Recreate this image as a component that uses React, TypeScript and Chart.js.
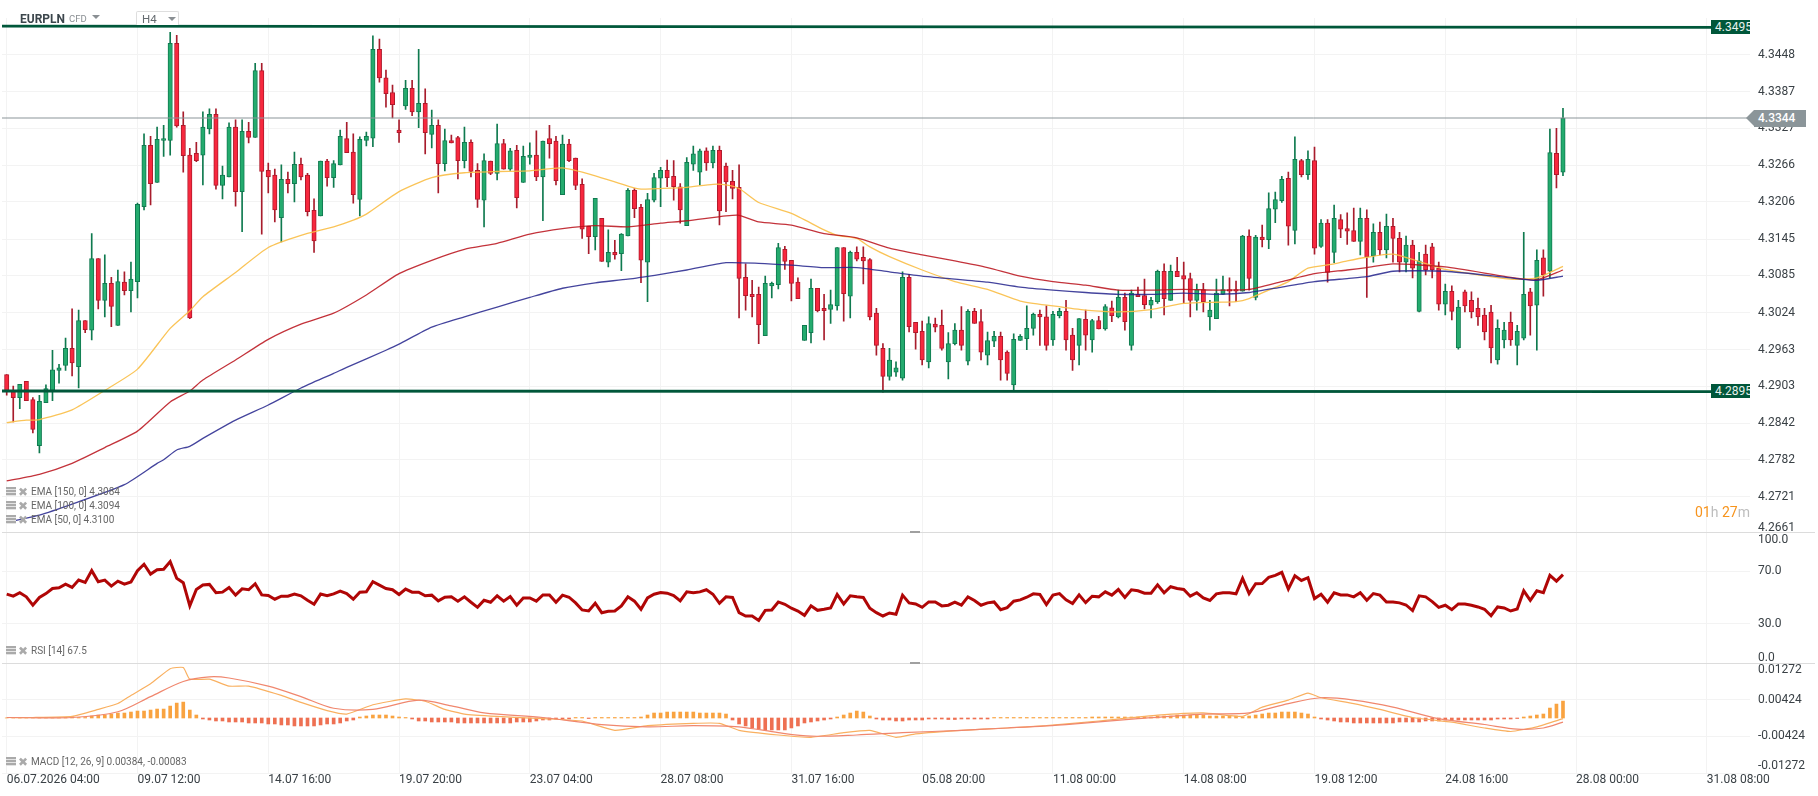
import { useEffect, useRef } from 'react';
import Chart from 'chart.js/auto';

// candles, H4, one per index on the x axis
const openPrices = [
  4.2922,4.2894,4.2884,4.2911,4.2881,4.2805,4.2876,4.2896,4.2929,4.2937,
  4.2965,4.2935,4.3011,4.2995,4.3113,4.3044,4.3072,4.3003,4.3074,4.3060,
  4.3075,4.3198,4.3299,4.3238,4.3307,4.3307,4.3467,4.3332,4.3283,4.3286,
  4.3283,4.3326,4.3350,4.3233,4.3247,4.3329,4.3223,4.3322,4.3312,4.3422,
  4.3258,4.3250,4.3180,4.3243,4.3236,4.3268,4.3250,4.3192,4.3183,4.3273,
  4.3246,4.3267,4.3310,4.3288,4.3210,4.3307,4.3311,4.3457,4.3410,4.3386,
  4.3324,4.3364,4.3393,4.3354,4.3368,4.3317,4.3332,4.3269,4.3307,4.3312,
  4.3274,4.3304,4.3258,4.3209,4.3273,4.3253,4.3302,4.3260,4.3291,4.3238,
  4.3279,4.3283,4.3247,4.3310,4.3306,4.3218,4.3301,4.3278,4.3235,4.3166,
  4.3149,4.3179,4.3107,4.3123,4.3121,4.3150,4.3225,4.3197,4.3107,4.3209,
  4.3245,4.3258,4.3248,4.3231,4.3167,4.3268,4.3255,4.3290,4.3270,4.3291,
  4.3265,4.3240,4.3230,4.3082,4.3054,4.3054,4.2986,4.3068,4.3070,4.3128,
  4.3110,4.3074,4.2978,4.2991,4.3064,4.3031,4.3029,4.3035,4.3131,4.3051,
  4.3123,4.3115,4.3111,4.3023,4.2965,4.2919,4.2926,4.2916,4.3082,4.3008,
  4.2993,4.2943,4.3005,4.3003,4.2943,4.2973,4.2995,4.2944,4.3026,4.3009,
  4.2954,4.2977,4.2985,4.2959,4.2905,4.2978,4.2981,4.2998,4.3021,4.3017,
  4.2979,4.3019,4.3026,4.2987,4.2970,4.3013,4.2979,4.3011,4.2997,4.3032,
  4.3017,4.3049,4.2970,4.3054,4.3052,4.3036,4.3042,4.3092,4.3044,4.3092,
  4.3085,4.3080,4.3044,4.3062,4.3017,4.3014,4.3054,4.3062,4.3062,4.3059,
  4.3150,4.3049,4.3148,4.3144,4.3194,4.3208,4.3245,4.3159,4.3274,4.3251,
  4.3274,4.3133,4.3171,4.3123,4.3177,4.3162,4.3159,4.3141,4.3179,4.3117,
  4.3156,4.3127,4.3166,4.3146,4.3107,4.3135,4.3026,4.3120,4.3132,4.3097,
  4.3038,4.3059,4.2966,4.3058,4.3044,4.3031,4.3020,4.3025,4.2946,4.2979,
  4.3008,4.2970,4.2982,4.3058,4.3036,4.3114,4.3092,4.3286,4.3255,
];
const closePrices = [
  4.2894,4.2884,4.2906,4.2879,4.2832,4.2878,4.2899,4.2930,4.2933,4.2965,
  4.2941,4.3011,4.2996,4.3113,4.3044,4.3072,4.3034,4.3075,4.3060,4.3079,
  4.3202,4.3299,4.3236,4.3309,4.3310,4.3467,4.3331,4.3282,4.3015,4.3274,
  4.3329,4.3350,4.3233,4.3250,4.3329,4.3223,4.3322,4.3312,4.3422,4.3256,
  4.3247,4.3193,4.3243,4.3236,4.3268,4.3247,4.3190,4.3142,4.3273,4.3246,
  4.3269,4.3314,4.3287,4.3218,4.3309,4.3314,4.3457,4.3410,4.3384,4.3366,
  4.3320,4.3393,4.3354,4.3368,4.3320,4.3332,4.3269,4.3307,4.3303,4.3274,
  4.3304,4.3256,4.3210,4.3274,4.3253,4.3302,4.3260,4.3290,4.3213,4.3281,
  4.3283,4.3247,4.3306,4.3302,4.3241,4.3301,4.3274,4.3233,4.3161,4.3149,
  4.3212,4.3108,4.3123,4.3119,4.3153,4.3225,4.3195,4.3110,4.3210,4.3246,
  4.3258,4.3246,4.3231,4.3193,4.3271,4.3285,4.3290,4.3270,4.3291,4.3191,
  4.3239,4.3228,4.3080,4.3052,4.3050,4.3004,4.3072,4.3072,4.3131,4.3108,
  4.3072,4.3047,4.3003,4.3064,4.3027,4.3027,4.3037,4.3131,4.3055,4.3123,
  4.3112,4.3109,4.3017,4.2970,4.2919,4.2946,4.2933,4.3082,4.3001,4.2991,
  4.2946,4.3006,4.3000,4.2965,4.2973,4.2995,4.2970,4.3026,4.3006,4.2959,
  4.2978,4.2985,4.2946,4.2924,4.2980,4.2985,4.2998,4.3021,4.3017,4.2970,
  4.3021,4.3026,4.2979,4.2946,4.3014,4.2987,4.3011,4.2997,4.3034,4.3019,
  4.3049,4.3009,4.3056,4.3050,4.3037,4.3044,4.3092,4.3047,4.3092,4.3083,
  4.3079,4.3044,4.3062,4.3042,4.3028,4.3056,4.3062,4.3059,4.3059,4.3150,
  4.3080,4.3148,4.3144,4.3195,4.3210,4.3243,4.3166,4.3276,4.3251,4.3276,
  4.3130,4.3171,4.3090,4.3179,4.3161,4.3158,4.3141,4.3179,4.3116,4.3156,
  4.3127,4.3166,4.3146,4.3107,4.3135,4.3097,4.3109,4.3094,4.3094,4.3038,
  4.3059,4.3026,4.3033,4.3035,4.3025,4.3017,4.2992,4.2966,4.2998,4.2995,
  4.2979,4.2993,4.3054,4.3035,4.3110,4.3086,4.3287,4.3251,4.3344,
];
const highPrices = [
  4.2922,4.2903,4.2906,4.2911,4.2884,4.2888,4.2905,4.2962,4.2939,4.2982,
  4.3030,4.3028,4.3011,4.3154,4.3113,4.3119,4.3082,4.3094,4.3091,4.3107,
  4.3204,4.3318,4.3314,4.3329,4.3332,4.3485,4.3480,4.3354,4.3294,4.3304,
  4.3354,4.3359,4.3359,4.3265,4.3336,4.3341,4.3341,4.3337,4.3434,4.3434,
  4.3270,4.3260,4.3267,4.3255,4.3288,4.3278,4.3253,4.3211,4.3273,4.3276,
  4.3274,4.3324,4.3337,4.3318,4.3313,4.3321,4.3479,4.3474,4.3423,4.3398,
  4.3341,4.3406,4.3406,4.3457,4.3392,4.3357,4.3341,4.3326,4.3316,4.3314,
  4.3329,4.3308,4.3269,4.3285,4.3273,4.3334,4.3309,4.3294,4.3299,4.3298,
  4.3303,4.3323,4.3306,4.3332,4.3314,4.3316,4.3309,4.3278,4.3244,4.3166,
  4.3212,4.3179,4.3160,4.3143,4.3154,4.3228,4.3228,4.3202,4.3220,4.3253,
  4.3263,4.3275,4.3274,4.3236,4.3279,4.3298,4.3293,4.3295,4.3298,4.3298,
  4.3270,4.3258,4.3267,4.3104,4.3077,4.3066,4.3084,4.3074,4.3138,4.3133,
  4.3110,4.3081,4.3003,4.3079,4.3064,4.3054,4.3061,4.3131,4.3131,4.3125,
  4.3132,4.3132,4.3113,4.3031,4.2973,4.2965,4.2943,4.3091,4.3087,4.3008,
  4.3010,4.3017,4.3015,4.3028,4.2991,4.3006,4.3034,4.3029,4.3031,4.3029,
  4.2992,4.2993,4.2992,4.2961,4.2989,4.2988,4.3035,4.3023,4.3028,4.3035,
  4.3026,4.3031,4.3044,4.2998,4.3014,4.3028,4.3013,4.3018,4.3037,4.3043,
  4.3061,4.3056,4.3061,4.3066,4.3079,4.3049,4.3094,4.3104,4.3102,4.3115,
  4.3107,4.3089,4.3071,4.3072,4.3044,4.3079,4.3084,4.3081,4.3076,4.3151,
  4.3160,4.3151,4.3168,4.3221,4.3222,4.3248,4.3255,4.3313,4.3276,4.3290,
  4.3296,4.3177,4.3177,4.3201,4.3185,4.3188,4.3196,4.3196,4.3193,4.3170,
  4.3173,4.3186,4.3179,4.3156,4.3150,4.3143,4.3123,4.3135,4.3138,4.3107,
  4.3071,4.3068,4.3044,4.3061,4.3058,4.3048,4.3031,4.3036,4.3012,4.3008,
  4.3025,4.3003,4.3156,4.3064,4.3127,4.3127,4.3326,4.3327,4.3360,
];
const lowPrices = [
  4.2888,4.2844,4.2866,4.2879,4.2826,4.2793,4.2876,4.2879,4.2908,4.2929,
  4.2920,4.2900,4.2991,4.2979,4.3030,4.3017,4.3001,4.3003,4.3053,4.3025,
  4.3048,4.3193,4.3201,4.3238,4.3281,4.3283,4.3329,4.3255,4.3014,4.3272,
  4.3234,4.3318,4.3227,4.3211,4.3247,4.3199,4.3157,4.3303,4.3312,4.3153,
  4.3221,4.3173,4.3140,4.3221,4.3206,4.3242,4.3183,4.3123,4.3183,4.3232,
  4.3230,4.3267,4.3287,4.3204,4.3183,4.3298,4.3297,4.3403,4.3362,4.3344,
  4.3304,4.3358,4.3348,4.3328,4.3285,4.3295,4.3221,4.3257,4.3303,4.3244,
  4.3262,4.3247,4.3197,4.3165,4.3251,4.3242,4.3260,4.3258,4.3196,4.3238,
  4.3268,4.3241,4.3175,4.3278,4.3234,4.3218,4.3272,4.3226,4.3146,4.3121,
  4.3127,4.3108,4.3099,4.3112,4.3093,4.3150,4.3180,4.3073,4.3042,4.3206,
  4.3198,4.3231,4.3209,4.3171,4.3167,4.3258,4.3234,4.3258,4.3262,4.3168,
  4.3190,4.3211,4.3015,4.3028,4.3017,4.2973,4.2986,4.3048,4.3063,4.3095,
  4.3043,4.3047,4.2978,4.2974,4.3025,4.2979,4.3006,4.3028,4.3010,4.3015,
  4.3109,4.3071,4.3012,4.2954,4.2893,4.2913,4.2919,4.2913,4.2992,4.2964,
  4.2938,4.2933,4.2992,4.2962,4.2915,4.2971,4.2962,4.2938,4.3006,4.2946,
  4.2938,4.2968,4.2913,4.2913,4.2895,4.2978,4.2963,4.2987,4.2970,4.2962,
  4.2970,4.3015,4.2962,4.2929,4.2938,4.2962,4.2959,4.2997,4.2995,4.3009,
  4.3015,4.2995,4.2962,4.3050,4.3030,4.3015,4.3039,4.3020,4.3044,4.3083,
  4.3039,4.3017,4.3028,4.3025,4.2995,4.3014,4.3054,4.3035,4.3042,4.3059,
  4.3061,4.3045,4.3132,4.3129,4.3172,4.3205,4.3135,4.3137,4.3247,4.3243,
  4.3120,4.3131,4.3074,4.3106,4.3147,4.3136,4.3141,4.3119,4.3049,4.3107,
  4.3119,4.3114,4.3107,4.3091,4.3091,4.3081,4.3025,4.3086,4.3081,4.3028,
  4.3020,4.3012,4.2964,4.3025,4.3015,4.3003,4.2979,4.2941,4.2939,4.2966,
  4.2970,4.2938,4.2979,4.2987,4.2962,4.3051,4.3081,4.3229,4.3249,
];

const ema50Index = [0,3,5,10,15,20,25,28,30,35,40,45,50,53,55,60,65,70,75,80,85,90,95,97,100,104,108,110,112,115,120,125,127,130,132,135,140,145,150,155,160,165,170,175,180,185,188,190,193,196,199,203,205,208,212,220,230,234,238];
const ema50Values = [4.2843,4.2847,4.2848,4.2864,4.2896,4.2931,4.2998,4.3027,4.3050,4.3090,4.3131,4.3151,4.3165,4.3176,4.3186,4.3223,4.3246,4.3254,4.3256,4.3257,4.3262,4.3249,4.3232,4.3227,4.3228,4.3230,4.3235,4.3234,4.3228,4.3205,4.3187,4.3160,4.3151,4.3146,4.3132,4.3116,4.3094,4.3075,4.3062,4.3043,4.3035,4.3028,4.3025,4.3029,4.3039,4.3041,4.3042,4.3047,4.3061,4.3075,4.3097,4.3104,4.3109,4.3115,4.3120,4.3095,4.3079,4.3081,4.3100];
const ema100Index = [0,5,10,15,20,25,28,30,35,40,45,50,55,60,65,70,75,80,85,90,95,100,104,110,112,115,120,125,130,135,140,145,150,155,160,165,170,175,180,185,190,195,200,205,208,212,220,230,234,238];
const ema100Values = [4.2747,4.2758,4.2776,4.2802,4.2829,4.2877,4.2895,4.2913,4.2946,4.2980,4.3005,4.3023,4.3053,4.3088,4.3110,4.3128,4.3138,4.3153,4.3162,4.3167,4.3165,4.3171,4.3175,4.3183,4.3184,4.3173,4.3168,4.3154,4.3147,4.3130,4.3119,4.3109,4.3098,4.3084,4.3075,4.3069,4.3061,4.3061,4.3062,4.3061,4.3062,4.3075,4.3088,4.3094,4.3098,4.3104,4.3099,4.3082,4.3078,4.3094];
const ema150Index = [0,5,10,18,23,24,26,28,30,35,40,45,50,52,58,60,65,70,75,80,85,90,95,100,104,110,115,120,125,130,135,140,145,150,155,160,165,170,175,180,185,190,195,200,205,208,212,220,230,234,238];
const ema150Values = [4.2679,4.2691,4.2709,4.2741,4.2776,4.2782,4.2798,4.2804,4.2817,4.2847,4.2872,4.2900,4.2924,4.2934,4.2962,4.2972,4.3000,4.3017,4.3033,4.3049,4.3064,4.3073,4.3079,4.3087,4.3094,4.3106,4.3105,4.3102,4.3098,4.3098,4.3091,4.3084,4.3079,4.3074,4.3066,4.3061,4.3057,4.3054,4.3054,4.3056,4.3054,4.3057,4.3066,4.3075,4.3080,4.3083,4.3092,4.3092,4.3081,4.3077,4.3084];

// RSI, one value per candle
const rsiValues = [
  52.6,51.0,53.6,50.5,44.1,50.0,53.0,56.9,57.4,60.2,
  57.7,63.3,61.5,70.5,62.0,63.3,58.7,62.5,60.2,61.8,
  70.5,75.4,67.9,71.2,71.5,77.4,64.6,61.3,43.6,56.1,
  59.5,60.0,53.6,54.1,57.7,51.8,56.6,55.9,60.5,52.0,
  51.5,48.7,51.0,51.0,52.6,51.3,47.9,44.8,52.6,51.3,
  52.8,54.8,53.0,48.7,54.1,54.3,62.0,59.5,56.9,55.9,
  52.3,56.4,54.1,54.1,51.3,51.8,47.4,50.2,50.5,47.2,
  50.5,46.4,42.5,47.9,46.4,51.3,47.2,50.7,44.1,49.7,
  49.7,47.2,52.0,52.0,46.4,51.8,50.2,45.9,40.5,39.7,
  45.6,38.4,39.5,39.7,43.6,50.5,47.2,41.0,49.7,52.5,
  53.8,53.3,51.5,47.4,54.3,53.6,54.3,55.9,52.5,45.6,
  50.5,50.0,38.4,35.9,35.9,32.5,40.2,40.5,46.6,44.8,
  41.8,39.7,36.4,43.6,40.2,41.0,42.0,52.3,45.1,51.3,
  50.5,50.0,41.8,38.4,35.9,38.2,37.2,51.8,45.9,45.1,
  42.5,46.6,46.6,43.6,44.1,46.4,44.1,50.5,47.7,44.1,
  45.9,46.6,40.7,42.3,47.2,48.2,50.2,52.8,52.3,44.6,
  51.8,53.0,48.2,45.4,52.0,46.1,51.0,50.5,54.3,51.8,
  56.1,50.0,55.9,55.1,53.3,53.3,59.7,53.6,58.2,56.9,
  56.1,51.0,53.6,49.7,47.7,52.8,53.6,53.6,52.8,64.6,
  53.0,60.5,60.7,65.4,66.9,69.2,56.4,66.6,63.0,65.1,
  49.2,52.5,46.4,53.6,52.0,52.0,50.5,53.6,47.9,53.0,
  51.8,46.6,46.6,45.9,44.3,40.0,51.3,50.5,46.9,42.5,
  44.1,40.7,45.1,45.1,44.1,42.8,41.0,36.1,42.8,42.0,
  39.7,41.2,55.1,47.9,55.1,53.6,66.9,62.5,67.5,
];

// MACD histogram per candle, the two lines at marked indices
const macdHistogram = [
  0.00002,0.00002,0.00002,0.00002,0.00002,0.00002,0.00002,0.00002,0.00002,0.00012,
  0.00012,0.00012,0.00012,0.00046,0.00069,0.00069,0.00092,0.00115,0.00115,0.00138,
  0.00161,0.00161,0.00184,0.00207,0.00207,0.00276,0.00345,0.00368,0.00184,0.00069,
  -0.00023,-0.00046,-0.00069,-0.00069,-0.00092,-0.00092,-0.00092,-0.00115,-0.00115,-0.00115,
  -0.00138,-0.00138,-0.00161,-0.00161,-0.00184,-0.00184,-0.00184,-0.00184,-0.00161,-0.00138,
  -0.00138,-0.00115,-0.00069,-0.00046,0.00023,0.00046,0.00069,0.00069,0.00069,0.00046,
  0.00023,0.00012,-0.00023,-0.00069,-0.00069,-0.00092,-0.00092,-0.00092,-0.00092,-0.00115,
  -0.00115,-0.00115,-0.00115,-0.00115,-0.00115,-0.00115,-0.00115,-0.00115,-0.00092,-0.00092,
  -0.00092,-0.00069,-0.00046,-0.00046,-0.00023,-0.00023,-0.00023,0.00012,0.00012,-0.00012,
  0.00012,0.00012,0.00012,0.00012,0.00012,0.00012,0.00012,0.00023,0.00069,0.00115,
  0.00115,0.00138,0.00138,0.00138,0.00138,0.00138,0.00115,0.00115,0.00115,0.00115,
  0.00092,-0.00046,-0.00138,-0.00184,-0.0023,-0.00253,-0.00276,-0.00276,-0.00276,-0.00276,
  -0.0023,-0.00184,-0.00115,-0.00092,-0.00069,-0.00046,-0.00023,0.00023,0.00069,0.00115,
  0.00161,0.00138,0.00046,-0.00023,-0.00046,-0.00046,-0.00069,-0.00069,-0.00046,-0.00046,
  -0.00046,-0.00023,-0.00023,-0.00023,-0.00035,-0.00035,-0.00023,-0.00023,-0.00023,-0.00023,
  -0.00023,0.00012,0.00012,0.00012,0.00012,0.00012,0.00012,0.00012,0.00012,0.00012,
  0.00012,0.00012,0.00012,0.00012,0.00012,0.00012,0.00023,0.00023,0.00023,0.00023,
  0.00023,0.00023,0.00023,0.00023,0.00023,0.00023,0.00046,0.00046,0.00046,0.00069,
  0.00069,0.00069,0.00069,0.00069,0.00046,0.00046,0.00046,0.00046,0.00046,0.00023,
  0.00046,0.00069,0.00092,0.00115,0.00115,0.00138,0.00138,0.00138,0.00115,0.00092,
  0.00023,-0.00023,-0.00046,-0.00069,-0.00092,-0.00092,-0.00115,-0.00115,-0.00115,-0.00115,
  -0.00115,-0.00115,-0.00115,-0.00092,-0.00092,-0.00092,-0.00092,-0.00069,-0.00069,-0.00069,
  -0.00046,-0.00046,-0.00046,-0.00046,-0.00046,-0.00046,-0.00046,-0.00046,-0.00023,-0.00023,
  -0.00023,-0.00012,0.00023,0.00046,0.00069,0.00092,0.0023,0.00322,0.00391,
];
const macdFastIndex = [0,4,10,14,17,19,22,25,27,28,31,34,37,42,45,49,52,56,61,64,67,70,75,82,88,93,98,105,109,112,118,123,128,132,136,139,146,153,159,167,176,183,189,192,196,199,201,206,210,215,221,226,230,234,238];
const macdFastValues = [0.00011,0.00011,0.00038,0.00199,0.00334,0.00522,0.00791,0.01141,0.01167,0.00898,0.00898,0.00737,0.00737,0.00522,0.0036,0.00172,0.00091,0.00307,0.00441,0.00387,0.00199,0.00091,0.00038,-0.00016,-0.0007,-0.00285,-0.00178,-0.00124,-0.00124,-0.00285,-0.00393,-0.00447,-0.00339,-0.00285,-0.00447,-0.00366,-0.00285,-0.00231,-0.00178,-0.0007,0.00065,0.00118,0.00038,0.00253,0.00414,0.00576,0.00468,0.00334,0.00199,0.00011,-0.00097,-0.00231,-0.00312,-0.00204,-0.00016];
const macdSignalIndex = [0,10,17,22,27,31,34,40,45,50,56,63,68,73,82,91,98,105,112,118,123,130,137,146,153,162,173,183,190,196,201,206,212,219,226,231,235,238];
const macdSignalValues = [0.00011,0.00011,0.00145,0.00495,0.00845,0.00952,0.00925,0.00737,0.00495,0.00226,0.00199,0.00414,0.0028,0.00118,0.00011,-0.00151,-0.00204,-0.00178,-0.00204,-0.00339,-0.0042,-0.00393,-0.00339,-0.00285,-0.00231,-0.00151,-0.00016,0.00091,0.00118,0.00334,0.00468,0.00414,0.00253,-0.00016,-0.00151,-0.00258,-0.00231,-0.00097];

// drawn support / resistance levels and the last price
const levelIndex = [-1, 261];
const upperLevel = [4.3495, 4.3493];
const lowerLevel = [4.2895, 4.2894];
const lastPrice = [4.3344, 4.3344];
const lastPriceIndex = [-1, 267];

// tick labels
const priceTicks = [4.3448,4.3387,4.3327,4.3266,4.3206,4.3145,4.3085,4.3024,4.2963,4.2903,4.2842,4.2782,4.2721,4.2661];
const rsiTicks = [100, 70, 30, 0];
const macdTicks = [0.01272, 0.00424, -0.00424, -0.01272];
const timeTickIndex = [0,20,40,60,80,100,120,140,160,180,200,220,240,260];
const timeTickLabels = ['06.07.2026 04:00','09.07 12:00','14.07 16:00','19.07 20:00','23.07 04:00','28.07 08:00','31.07 16:00','05.08 20:00','11.08 00:00','14.08 08:00','19.08 12:00','24.08 16:00','28.08 00:00','31.08 08:00'];

const INK = '#3a4146';
const GRID = '#f3f3f3';
const WIDTH = 1818;
const AXIS_W = 68;

const pts = (xs: number[], ys: number[]) => xs.map((x, i) => ({ x, y: ys[i] }));
const perCandle = (ys: any[]) => ys.map((y, i) => ({ x: i, y }));

// y labels are drawn by hand so the first and last one can stay inside their pane
const yLabels = (values: number[], texts: string[], insetTop: number, insetBottom: number) => ({
  id: 'yLabels',
  afterDraw(chart: any) {
    const { ctx, scales, chartArea } = chart;
    ctx.save();
    ctx.font = '12px Roboto';
    ctx.fillStyle = INK;
    ctx.textAlign = 'left';
    ctx.textBaseline = 'middle';
    values.forEach((v, i) => {
      const raw = scales.y.getPixelForValue(v);
      const y = Math.min(Math.max(raw, chartArea.top + insetTop), chartArea.bottom - insetBottom);
      ctx.fillText(texts[i], chartArea.right + 8, y);
    });
    ctx.restore();
  },
});

const xAxis = (showLabels: boolean) => ({
  type: 'linear',
  min: -0.72,
  max: 266.6,
  offset: false,
  grid: { color: GRID, drawTicks: false, offset: false },
  border: { display: false },
  afterBuildTicks: (axis: any) => { axis.ticks = timeTickIndex.map((value) => ({ value })); },
  afterFit: (axis: any) => { axis.height = showLabels ? 23 : 0; },
  ticks: {
    display: showLabels,
    autoSkip: false,
    maxRotation: 0,
    align: 'start',
    padding: 0,
    color: INK,
    font: { family: 'Roboto', size: 12 },
    callback: (_: any, i: number) => timeTickLabels[i],
  },
});

const yAxis = (min: number, max: number, ticks: number[]) => ({
  position: 'right',
  min,
  max,
  grid: { color: GRID, drawTicks: false },
  border: { display: false },
  afterBuildTicks: (axis: any) => { axis.ticks = ticks.map((value) => ({ value })); },
  afterFit: (axis: any) => { axis.width = AXIS_W; },
  ticks: { display: false },
});

const baseOptions = (scales: any, padding: any) => ({
  responsive: false,
  animation: false,
  events: [],
  layout: { padding },
  plugins: { legend: { display: false }, tooltip: { enabled: false } },
  scales,
});

const line = (data: any[], color: string, width: number, order: number, tension = 0) => ({
  type: 'line',
  data,
  borderColor: color,
  borderWidth: width,
  pointRadius: 0,
  tension,
  order,
});

function LegendRow({ y, text }: { y: number; text: string }) {
  return (
    <div style={{ position: 'absolute', left: 6, top: y - 7, height: 14, lineHeight: '14px', whiteSpace: 'nowrap' }}>
      <div style={{ position: 'absolute', left: 0, top: 2, width: 10, height: 9, background: 'repeating-linear-gradient(#aaa 0 2px, #e4e4e4 2px 3px)' }} />
      <span style={{ position: 'absolute', left: 12, top: 0, fontFamily: '"DejaVu Sans"', fontSize: 12, color: '#aaa' }}>✖</span>
      <span style={{ position: 'absolute', left: 25, top: 0, fontSize: 10, color: '#666' }}>{text}</span>
    </div>
  );
}

function LevelTag({ y, text }: { y: number; text: string }) {
  return (
    <div style={{ position: 'absolute', left: 1711, top: y - 7, width: 39, height: 14, lineHeight: '14px', background: '#00573a', color: '#e8f2ee', fontSize: 12, paddingLeft: 4, boxSizing: 'border-box', overflow: 'hidden' }}>
      {text}
    </div>
  );
}

const divider = (y: number): any => ({ position: 'absolute', left: 2, top: y, width: 1813, height: 1, background: '#dcdcdc' });
const handle = (y: number): any => ({ position: 'absolute', left: 910, top: y, width: 10, height: 2, background: '#a0a0a0' });

export default function App() {
  const priceRef = useRef<HTMLCanvasElement>(null);
  const rsiRef = useRef<HTMLCanvasElement>(null);
  const macdRef = useRef<HTMLCanvasElement>(null);

  useEffect(() => {
    const up = closePrices.map((c, i) => c >= openPrices[i]);

    const priceChart = new Chart(priceRef.current as any, {
      type: 'bar',
      data: {
        datasets: [
          {
            data: perCandle(lowPrices.map((l, i) => [l, highPrices[i]])),
            backgroundColor: up.map((u) => (u ? '#0f7a4f' : '#a81c2c')),
            barThickness: 1,
            grouped: false,
            order: 7,
          },
          {
            data: perCandle(openPrices.map((o, i) => [o, closePrices[i]])),
            backgroundColor: up.map((u) => (u ? '#24ab6e' : '#f7283e')),
            borderColor: up.map((u) => (u ? '#107a50' : '#b0192b')),
            borderWidth: 1,
            borderSkipped: false,
            barThickness: 4.4,
            grouped: false,
            order: 6,
          },
          line(pts(ema50Index, ema50Values), 'rgba(250,190,70,0.9)', 1.3, 5, 0.2),
          line(pts(ema100Index, ema100Values), 'rgba(185,15,25,0.85)', 1.3, 4, 0.2),
          line(pts(ema150Index, ema150Values), 'rgba(35,35,140,0.85)', 1.3, 3, 0.2),
          line(pts(lastPriceIndex, lastPrice), '#8b9599', 1, 2),
          line(pts(levelIndex, upperLevel), '#00573a', 2.8, 1),
          line(pts(levelIndex, lowerLevel), '#00573a', 2.8, 1),
        ],
      } as any,
      options: baseOptions(
        { x: xAxis(false), y: yAxis(4.26626, 4.35085, priceTicks) },
        { left: 2, top: 18, bottom: 0.7 },
      ) as any,
      plugins: [yLabels(priceTicks, priceTicks.map((v) => v.toFixed(4)), 0, 4.6)],
    });

    const rsiChart = new Chart(rsiRef.current as any, {
      type: 'line',
      data: { datasets: [line(perCandle(rsiValues), '#b00606', 3, 1)] } as any,
      options: baseOptions({ x: xAxis(false), y: yAxis(0, 100, rsiTicks) }, { left: 2 }) as any,
      plugins: [yLabels(rsiTicks, rsiTicks.map((v) => v.toFixed(1)), 7.5, 5)],
    });

    const macdChart = new Chart(macdRef.current as any, {
      type: 'bar',
      data: {
        datasets: [
          {
            data: perCandle(macdHistogram),
            backgroundColor: macdHistogram.map((v) => (v >= 0 ? '#f9a340' : '#ee7052')),
            barThickness: 3,
            grouped: false,
            order: 3,
          },
          line(pts(macdFastIndex, macdFastValues), '#f9b060', 1.2, 2, 0.15),
          line(pts(macdSignalIndex, macdSignalValues), '#f0876e', 1.2, 1, 0.3),
        ],
      } as any,
      options: baseOptions({ x: xAxis(true), y: yAxis(-0.01272, 0.01272, macdTicks) }, { left: 2 }) as any,
      plugins: [yLabels(macdTicks, macdTicks.map((v) => v.toFixed(5)), 7, 7)],
    });

    return () => {
      priceChart.destroy();
      rsiChart.destroy();
      macdChart.destroy();
    };
  }, []);

  const canvasStyle = (top: number): any => ({ position: 'absolute', left: 0, top, display: 'block' });

  return (
    <div style={{ position: 'absolute', left: 0, top: 0, width: WIDTH, height: 796, overflow: 'hidden', background: '#fff', fontFamily: 'Roboto' }}>
      <canvas ref={priceRef} width={WIDTH} height={533} style={canvasStyle(0)} />
      <canvas ref={rsiRef} width={WIDTH} height={131} style={canvasStyle(532)} />
      <canvas ref={macdRef} width={WIDTH} height={133} style={canvasStyle(663)} />

      <div style={divider(532)} />
      <div style={divider(663)} />
      <div style={handle(531)} />
      <div style={handle(662)} />

      {/* instrument header */}
      <div style={{ position: 'absolute', left: 20, top: 10, fontSize: 12, fontWeight: 700, lineHeight: '18px', color: '#3c464c' }}>EURPLN</div>
      <div style={{ position: 'absolute', left: 69, top: 13, fontSize: 9.5, lineHeight: '12px', color: '#8a8f93' }}>CFD</div>
      <div style={{ position: 'absolute', left: 92, top: 15, width: 0, height: 0, borderLeft: '4px solid transparent', borderRight: '4px solid transparent', borderTop: '4px solid #8a8f93' }} />
      <div style={{ position: 'absolute', left: 136, top: 11, width: 43, height: 14, border: '1px solid #dedede', borderBottom: 'none', boxSizing: 'border-box', borderRadius: '2px 2px 0 0', background: '#fff' }} />
      <div style={{ position: 'absolute', left: 142, top: 12, fontSize: 11.5, lineHeight: '14px', color: '#666c70' }}>H4</div>
      <div style={{ position: 'absolute', left: 168, top: 17, width: 0, height: 0, borderLeft: '4px solid transparent', borderRight: '4px solid transparent', borderTop: '4px solid #8a8f93' }} />

      <LevelTag y={27} text="4.3495" />
      <LevelTag y={391} text="4.2895" />

      {/* last price tag */}
      <div style={{ position: 'absolute', left: 1746, top: 110, width: 0, height: 0, borderTop: '8.5px solid transparent', borderBottom: '8.5px solid transparent', borderRight: '8px solid #8b9599' }} />
      <div style={{ position: 'absolute', left: 1754, top: 110, width: 52, height: 17, lineHeight: '17px', background: '#8b9599', color: '#fff', fontSize: 12, fontWeight: 500, paddingLeft: 4, boxSizing: 'border-box' }}>4.3344</div>

      {/* candle countdown */}
      <div style={{ position: 'absolute', left: 1695, top: 503, fontSize: 14, lineHeight: '18px', whiteSpace: 'nowrap', color: '#bdbdbd' }}>
        <span style={{ color: '#f7941d' }}>01</span>h <span style={{ color: '#f7941d' }}>27</span>m
      </div>

      <LegendRow y={492} text="EMA [150, 0] 4.3084" />
      <LegendRow y={506} text="EMA [100, 0] 4.3094" />
      <LegendRow y={520} text="EMA [50, 0] 4.3100" />
      <LegendRow y={651} text="RSI [14] 67.5" />
      <LegendRow y={762} text="MACD [12, 26, 9] 0.00384, -0.00083" />
    </div>
  );
}
